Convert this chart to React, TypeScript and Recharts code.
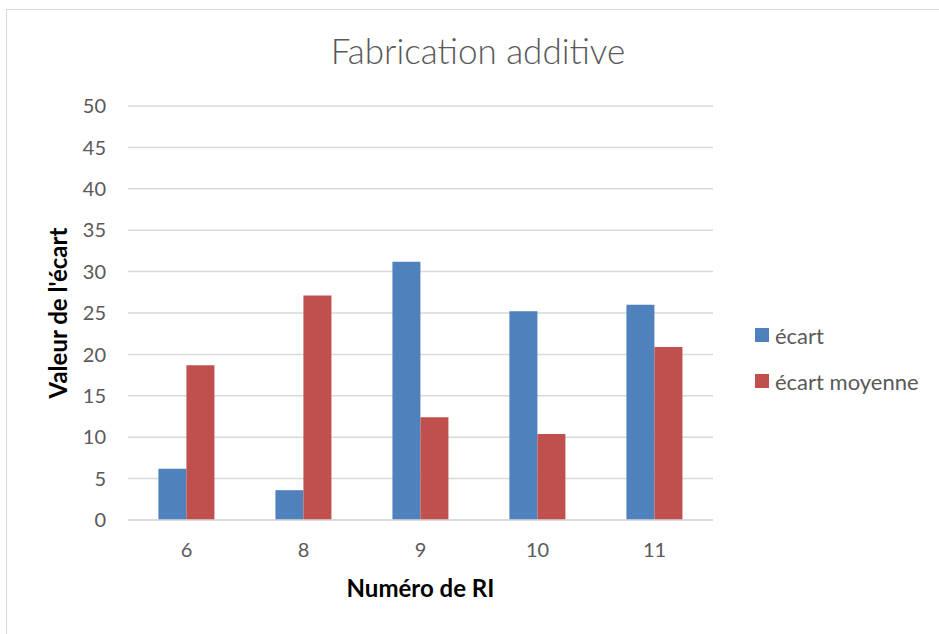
import React from 'react';
import { BarChart, Bar, XAxis, YAxis, CartesianGrid, Label } from 'recharts';

const categories = ['6', '8', '9', '10', '11'];
const ecart = [6.2, 3.6, 31.2, 25.2, 26.0];
const ecartMoyenne = [18.7, 27.1, 12.4, 10.4, 20.9];
const yTicks = [0, 5, 10, 15, 20, 25, 30, 35, 40, 45, 50];
const seriesNames = ['écart', 'écart moyenne'];

const blue = '#4f81bd';
const red = '#c0504d';
const gridColor = '#d9d9d9';
const textColor = '#595959';
const font = 'Lato, "Open Sans", sans-serif';

const data = categories.map((c, i) => ({ ri: c, ecart: ecart[i], moyenne: ecartMoyenne[i] }));

function LegendBox() {
  const colors = [blue, red];
  return (
    <div style={{ position: 'absolute', left: 755, top: 312, fontFamily: font, fontSize: 22, color: textColor }}>
      {seriesNames.map((name, i) => (
        <div key={name} style={{ display: 'flex', alignItems: 'center', height: 46 }}>
          <span style={{ width: 14, height: 14, background: colors[i], display: 'inline-block', marginRight: 6 }} />
          <span>{name}</span>
        </div>
      ))}
    </div>
  );
}

export default function App() {
  return (
    <div style={{ position: 'absolute', left: 0, top: 0, width: 939, height: 634, background: '#fff', overflow: 'hidden' }}>
      {/* chart frame */}
      <div style={{ position: 'absolute', left: 6, top: 9, width: 940, height: 640, border: '1px solid #d9d9d9', boxSizing: 'border-box' }} />
      <div
        style={{
          position: 'absolute', left: 0, top: 29, width: 956, textAlign: 'center',
          fontFamily: font, fontWeight: 300, fontSize: 35, color: textColor,
        }}
      >
        Fabrication additive
      </div>
      <div style={{ position: 'absolute', left: 0, top: 0 }}>
        <BarChart
          width={939}
          height={634}
          data={data}
          margin={{ top: 106, right: 226, bottom: 0, left: 0 }}
          barCategoryGap="26%"
          barGap={0}
        >
          <CartesianGrid vertical={false} stroke={gridColor} strokeWidth={1.5} />
          <XAxis
            dataKey="ri"
            axisLine={{ stroke: gridColor, strokeWidth: 1.5 }}
            tickLine={false}
            tickMargin={17}
            height={114}
            tick={{ fill: textColor, fontSize: 20, fontFamily: font }}
          >
            <Label
              value="Numéro de RI"
              position="insideTop"
              offset={60}
              style={{ fill: '#000', fontSize: 24, fontWeight: 700, fontFamily: font }}
            />
          </XAxis>
          <YAxis
            width={128}
            domain={[0, 50]}
            ticks={yTicks}
            interval={0}
            axisLine={false}
            tickLine={false}
            tickMargin={16}
            tick={{ fill: textColor, fontSize: 20, fontFamily: font }}
          >
            <Label
              value="Valeur de l'écart"
              angle={-90}
              position="insideLeft"
              offset={58}
              style={{ fill: '#000', fontSize: 24, fontWeight: 700, fontFamily: font, textAnchor: 'middle' }}
            />
          </YAxis>
          <Bar dataKey="ecart" name={seriesNames[0]} fill={blue} isAnimationActive={false} />
          <Bar dataKey="moyenne" name={seriesNames[1]} fill={red} isAnimationActive={false} />
        </BarChart>
      </div>
      <LegendBox />
    </div>
  );
}
